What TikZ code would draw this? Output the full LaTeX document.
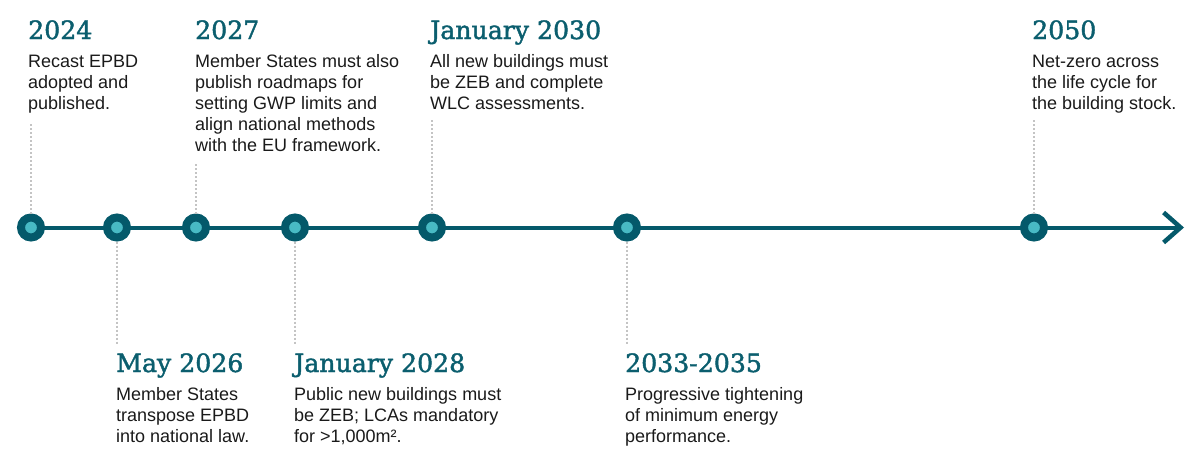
\documentclass[tikz,border=0pt]{standalone}
\usepackage{fontspec}
\setmainfont{Liberation Sans}
\newfontfamily\headfont[BoldFont={DejaVu Serif},BoldFeatures={FakeBold=1.6}]{DejaVu Serif}
\usetikzlibrary{arrows.meta,backgrounds}
\definecolor{tealdark}{HTML}{04596A}
\definecolor{headteal}{HTML}{0B5E6E}
\definecolor{dotteal}{HTML}{48BAC4}
\definecolor{dotgray}{HTML}{C4C4C4}
\definecolor{bodyblack}{HTML}{1A1A1A}
\newcommand{\firstline}{\rule{0pt}{14pt}}
\tikzset{
  marker/.style={circle, draw=tealdark, fill=dotteal, line width=8pt, minimum size=20pt, inner sep=0pt},
  mainline/.style={draw=tealdark, line width=4pt, -{Straight Barb[length=17pt,width=30pt,line width=4.5pt]}},
  heading/.style={anchor=base west, inner sep=0pt, text=headteal, font=\headfont\bfseries\fontsize{25.2}{30}\selectfont},
  body/.style={anchor=north west, inner sep=0pt, align=left, text=bodyblack, font=\fontsize{18}{21}\selectfont},
  guide/.style={draw=dotgray, line width=2pt, dash pattern=on 2pt off 2pt}
}
\begin{document}
\begin{tikzpicture}[x=1pt,y=-1pt]
\useasboundingbox (0,0) rectangle (1200,464);
% markers
\node[marker] (m2024) at (31,227.5) {};
\node[marker] (m2026) at (117,227.5) {};
\node[marker] (m2027) at (196,227.5) {};
\node[marker] (m2028) at (295,227.5) {};
\node[marker] (m2030) at (432,227.5) {};
\node[marker] (m2033) at (627,227.5) {};
\node[marker] (m2050) at (1034,227.5) {};
\coordinate (tip) at (1184,227.5);
\begin{scope}[on background layer]
\draw[mainline] (m2024.center) -- (tip);
\end{scope}
% top texts
\node[heading] (h2024) at (28,39) {2024};
\node[body] (b2024) at (28,53) {\firstline Recast EPBD\\adopted and\\published.};
\node[heading] (h2027) at (195,39) {2027};
\node[body] (b2027) at (195,53) {\firstline Member States must also\\publish roadmaps for\\setting GWP limits and\\align national methods\\with the EU framework.};
\node[heading] (h2030) at (430,39) {January 2030};
\node[body] (b2030) at (430,53) {\firstline All new buildings must\\be ZEB and complete\\WLC assessments.};
\node[heading] (h2050) at (1032,39) {2050};
\node[body] (b2050) at (1032,53) {\firstline Net-zero across\\the life cycle for\\the building stock.};
% bottom texts
\node[heading] (h2026) at (116,372) {May 2026};
\node[body] (b2026) at (116,386) {\firstline Member States\\transpose EPBD\\into national law.};
\node[heading] (h2028) at (294,372) {January 2028};
\node[body] (b2028) at (294,386) {\firstline Public new buildings must\\be ZEB; LCAs mandatory\\for >1,000m².};
\node[heading] (h2033) at (625,372) {2033-2035};
\node[body] (b2033) at (625,386) {\firstline Progressive tightening\\of minimum energy\\performance.};
% guides
\draw[guide] (m2024.north) -- (m2024 |- 0,122);
\draw[guide] (m2027.north) -- (m2027 |- 0,162);
\draw[guide] (m2030.north) -- (m2030 |- 0,120);
\draw[guide] (m2050.north) -- (m2050 |- 0,120);
\draw[guide] (m2026.south) -- (m2026 |- 0,345);
\draw[guide] (m2028.south) -- (m2028 |- 0,345);
\draw[guide] (m2033.south) -- (m2033 |- 0,345);
\end{tikzpicture}
\end{document}
